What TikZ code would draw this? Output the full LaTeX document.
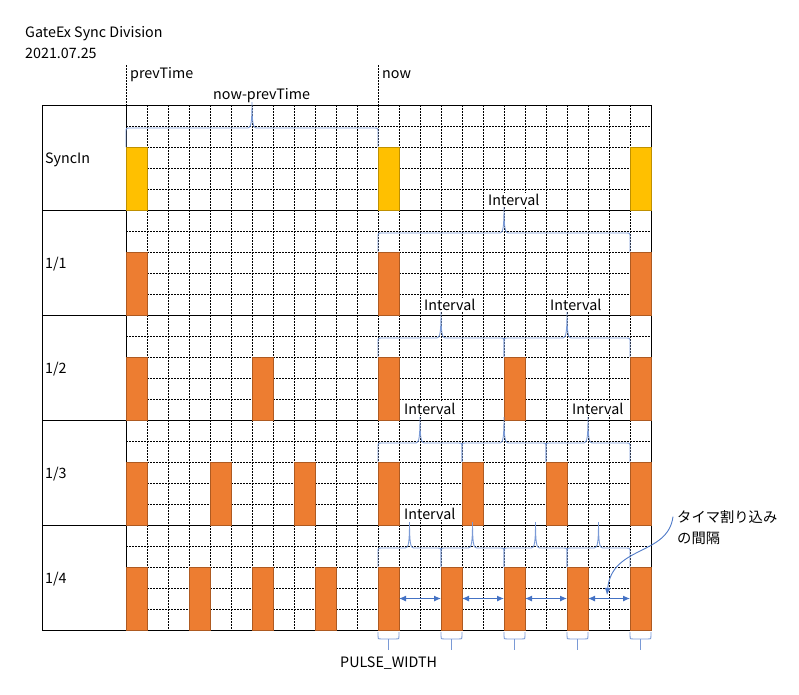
\documentclass[tikz,border=0pt]{standalone}
\usepackage{fontspec}
\setmainfont{Noto Sans CJK JP}
\usetikzlibrary{arrows.meta}

\definecolor{syncfill}{HTML}{FFC000}
\definecolor{syncedge}{HTML}{BF9000}
\definecolor{divfill}{HTML}{ED7D31}
\definecolor{divedge}{HTML}{AE5A21}
\definecolor{bracecol}{HTML}{7A9AD6}
\definecolor{arrowcol}{HTML}{4472C4}

\tikzset{
  gridline/.style={black, line width=0.9pt, dash pattern=on 1.5pt off 1.5pt},
  frameline/.style={black, line width=1pt},
  pulsebox/.style={anchor=north west, minimum width=21pt, minimum height=63pt,
    inner sep=0pt, outer sep=0pt, line width=0.9pt, fill=divfill, draw=divedge},
  syncbox/.style={pulsebox, fill=syncfill, draw=syncedge},
  lbl/.style={anchor=base west, inner sep=0pt, font=\fontsize{14.3}{16}\selectfont},
  ivlbl/.style={lbl, fill=white, inner sep=1pt},
  bracepath/.style={bracecol, line width=0.9pt},
  gaparrow/.style={arrowcol, line width=1pt,
    {Latex[length=7pt,width=6pt]}-{Latex[length=7pt,width=6pt]}},
}

% brace over one interval: left x, right x, row top
\newcommand{\ivbrace}[3]{%
  \draw[bracepath] (#1,#3+42) -- (#1,#3+27) .. controls (#1,#3+23) .. (#1+4,#3+23)
    -- ({(#1+#2)/2-4},#3+23) .. controls ({(#1+#2)/2-1},#3+23) and ({(#1+#2)/2},#3+17) .. ({(#1+#2)/2},#3-3)
    .. controls ({(#1+#2)/2},#3+17) and ({(#1+#2)/2+1},#3+23) .. ({(#1+#2)/2+4},#3+23)
    -- (#2-4,#3+23) .. controls (#2,#3+23) .. (#2,#3+27) -- (#2,#3+42);}

% brace under one pulse
\newcommand{\pwbrace}[1]{%
  \draw[bracepath] (#1,632) -- (#1,636) .. controls (#1,639) .. (#1+3,639)
    -- (#1+18,639) .. controls (#1+21,639) .. (#1+21,636) -- (#1+21,632);
  \draw[bracepath] (#1+10.5,639) -- (#1+10.5,650);}

\begin{document}
\begin{tikzpicture}[x=1pt,y=-1pt]
\useasboundingbox (0,0) rectangle (799,694);

% dotted grid
\foreach \k in {1,...,24}
  \draw[gridline] ({126+21*\k},105) -- ({126+21*\k},630);
\foreach \r in {0,...,4}
  \foreach \j in {1,...,4}
    \draw[gridline] (126,{105+105*\r+21*\j}) -- (651,{105+105*\r+21*\j});
\draw[gridline] (126,65) -- (126,105);
\draw[gridline] (378,65) -- (378,105);

% table frame
\foreach \r in {0,...,5}
  \draw[frameline] (42,{105+105*\r}) -- (651,{105+105*\r});
\draw[frameline] (42,105) -- (42,630);
\draw[frameline] (126,105) -- (126,630);
\draw[frameline] (651,105) -- (651,630);

% pulses
\foreach \k in {0,1,2}
  \node[syncbox] (sync\k) at ({126+252*\k},147) {};
\foreach \k in {0,1,2}
  \node[pulsebox] (one\k) at ({126+252*\k},252) {};
\foreach \k in {0,...,4}
  \node[pulsebox] (half\k) at ({126+126*\k},357) {};
\foreach \k in {0,...,6}
  \node[pulsebox] (third\k) at ({126+84*\k},462) {};
\foreach \k in {0,...,8}
  \node[pulsebox] (quarter\k) at ({126+63*\k},567) {};

% texts
\node[lbl] (title) at (25,37) {GateEx Sync Division};
\node[lbl] (date) at (25,58) {2021.07.25};
\node[lbl] (prev) at (130,78) {prevTime};
\node[lbl] (now) at (382,78) {now};
\node[lbl] (diff) at (213,99) {now-prevTime};
\node[lbl] (rowsync) at (45,163) {SyncIn};
\node[lbl] (rowone) at (45,268) {1/1};
\node[lbl] (rowhalf) at (45,373) {1/2};
\node[lbl] (rowthird) at (45,478) {1/3};
\node[lbl] (rowquarter) at (45,583) {1/4};
\node[ivlbl] (ivone) at (487,205) {Interval};
\node[ivlbl] (ivhalfa) at (423,310) {Interval};
\node[ivlbl] (ivhalfb) at (549,310) {Interval};
\node[ivlbl] (ivthirda) at (403,414) {Interval};
\node[ivlbl] (ivthirdb) at (571,414) {Interval};
\node[ivlbl] (ivquarter) at (403,519) {Interval};
\node[lbl] (pw) at (340,667) {PULSE\_WIDTH};
\node[lbl] (timera) at (677,522) {タイマ割り込み};
\node[lbl] (timerb) at (677,543) {の間隔};

% braces
\ivbrace{126}{378}{105}
\ivbrace{378}{630}{210}
\foreach \a in {378,504}
  {\ivbrace{\a}{\a+126}{315}}
\foreach \a in {378,462,546}
  {\ivbrace{\a}{\a+84}{420}}
\foreach \a in {378,441,504,567}
  {\ivbrace{\a}{\a+63}{525}}
\foreach \a in {378,441,504,567,630}
  {\pwbrace{\a}}

% gaps between 1/4 pulses
\foreach \k [count=\n from 5] in {4,...,7}
  \draw[gaparrow] (quarter\k.east) -- (quarter\n.west);
\coordinate (gapmid) at (607,595);
\draw[bracepath, -{Latex[length=7pt,width=6pt]}, arrowcol!80!bracecol]
  ([xshift=-4pt]timera.west) .. controls (668,556) and (612,545) .. (gapmid);
\end{tikzpicture}
\end{document}
